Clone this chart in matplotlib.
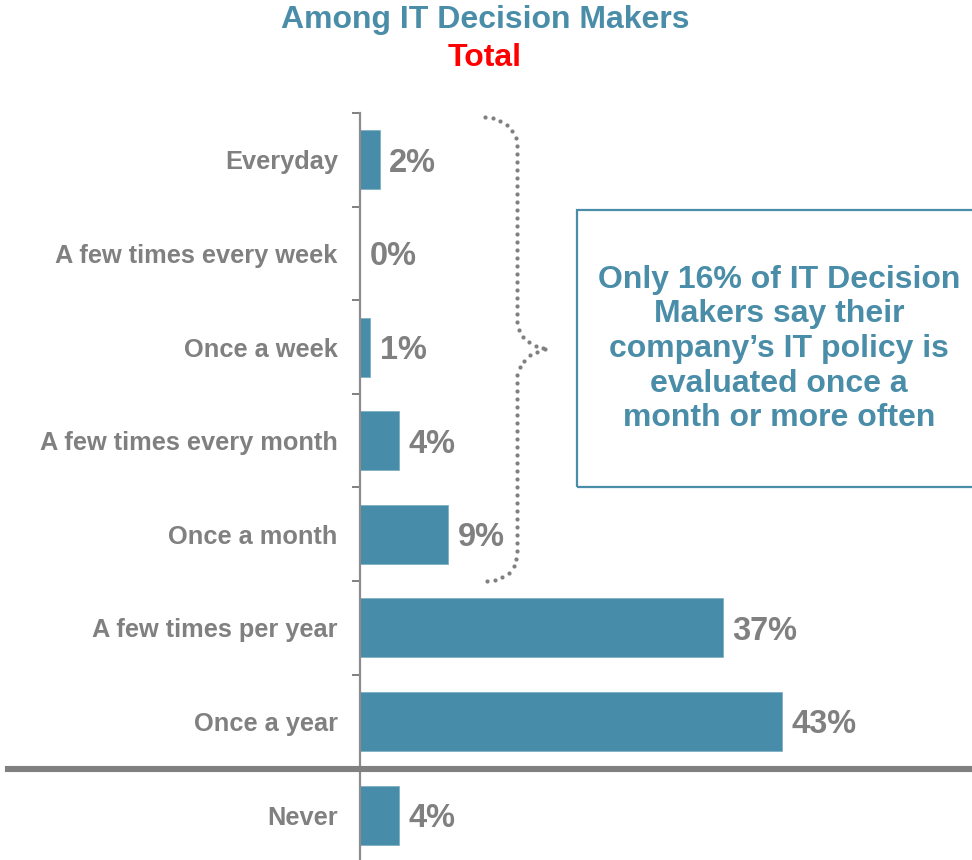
import numpy as np
import matplotlib
matplotlib.use("Agg")
import matplotlib.pyplot as plt
from matplotlib.patches import Rectangle
from matplotlib.lines import Line2D

plt.rcParams['font.family'] = ['Liberation Sans', 'DejaVu Sans']

categories = ["Everyday", "A few times every week", "Once a week",
              "A few times every month", "Once a month",
              "A few times per year", "Once a year", "Never"]
values = [2, 0, 1, 4, 9, 37, 43, 4]
value_labels = ["2%", "0%", "1%", "4%", "9%", "37%", "43%", "4%"]
title_main = "Among IT Decision Makers"
title_sub = "Total"
callout = ("Only 16% of IT Decision\nMakers say their\ncompany\u2019s IT policy is\n"
           "evaluated once a\nmonth or more often")

W, H = 972, 860
BAR = "#478CA8"
TEAL = "#4A8DA8"
GRAY = "#808080"

fig = plt.figure(figsize=(W / 100, H / 100), dpi=100)

def fx(px):
    return px / W

def fy(py):
    return 1 - py / H

ax = fig.add_axes([fx(360), 0, 1 - fx(360), fy(113)])
y = list(range(len(categories)))
ax.barh(y, values, height=0.63, color=BAR, edgecolor="#7FB0C4", linewidth=0.6)
ax.set_xlim(0, 612 / 9.81)
ax.set_ylim(7.48, -0.5)
ax.set_yticks(y)
ax.set_yticklabels(categories, fontsize=18.3, fontweight="bold", color=GRAY)
for t in ax.get_yticklabels():
    t.set_verticalalignment("center_baseline")
ax.tick_params(axis="y", which="major", length=0, pad=16)
ax.set_yticks([i - 0.5 for i in range(len(categories))], minor=True)
ax.tick_params(axis="y", which="minor", length=6, width=1.4, color=GRAY, direction="out")
ax.set_xticks([])
for s in ["top", "right", "bottom"]:
    ax.spines[s].set_visible(False)
ax.spines["left"].set_color("#8C8C8C")
ax.spines["left"].set_linewidth(1.6)

for yi, v, lab in zip(y, values, value_labels):
    ax.annotate(lab, (v, yi), xytext=(7, -2.5), textcoords="offset points",
                ha="left", va="center", fontsize=23.5, fontweight="bold", color=GRAY)

# separator line
fig.add_artist(Line2D([fx(8), 1], [fy(769), fy(769)], color=GRAY, linewidth=4.4,
                      transform=fig.transFigure))

# titles
fig.text(fx(485), fy(20), title_main, ha="center", va="center", fontsize=23,
         fontweight="bold", color=TEAL)
fig.text(fx(485), fy(58), title_sub, ha="center", va="center", fontsize=23,
         fontweight="bold", color="#FF0000")

# brace (dotted), built from cubic segments in pixel coords
def bez(p0, p1, p2, p3, n=60):
    t = np.linspace(0, 1, n)[:, None]
    p0, p1, p2, p3 = map(np.array, (p0, p1, p2, p3))
    return (1 - t) ** 3 * p0 + 3 * (1 - t) ** 2 * t * p1 + 3 * (1 - t) * t ** 2 * p2 + t ** 3 * p3

segs = [
    bez((485, 117), (505, 119), (517, 128), (517, 150)),
    bez((517, 150), (517, 220), (517, 260), (517, 320)),
    bez((517, 320), (517, 336), (530, 347), (548, 349)),
    bez((548, 349), (530, 351), (517, 362), (517, 380)),
    bez((517, 380), (517, 450), (517, 500), (517, 550)),
    bez((517, 550), (517, 572), (505, 580), (485, 581)),
]
pts = np.vstack(segs)
d = np.r_[0, np.cumsum(np.hypot(*np.diff(pts, axis=0).T))]
s = np.arange(0, d[-1] + 0.1, 8.0)
bx = np.interp(s, d, pts[:, 0])
by = np.interp(s, d, pts[:, 1])
fig.add_artist(Line2D(fx(bx), fy(by), linestyle="none", marker="o", markersize=3.0,
                      markerfacecolor=GRAY, markeredgecolor=GRAY, markeredgewidth=0,
                      transform=fig.transFigure))

# callout box
fig.add_artist(Rectangle((fx(577), fy(487)), fx(410), fy(210) - fy(487),
                         facecolor="none", edgecolor=TEAL, linewidth=1.6,
                         transform=fig.transFigure))
fig.text(fx(779), fy(349), callout, ha="center", va="center", fontsize=23,
         fontweight="bold", color=TEAL, linespacing=1.2)

fig.savefig("out.png", dpi=100)
